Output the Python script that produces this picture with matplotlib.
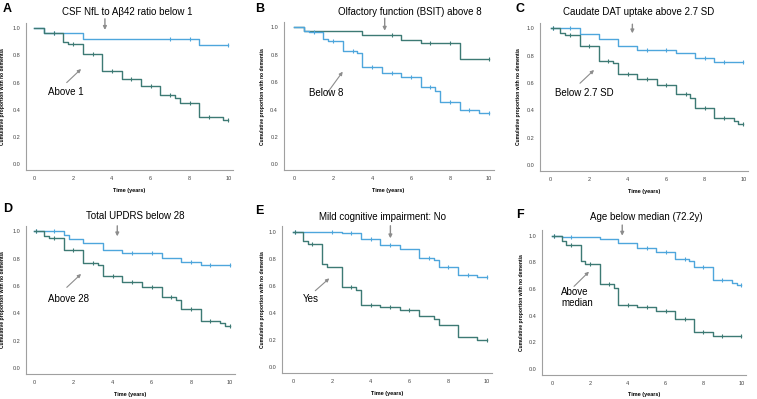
import numpy as np
import matplotlib
matplotlib.use("Agg")
import matplotlib.pyplot as plt

plt.rcParams['font.family'] = ['Liberation Sans', 'DejaVu Sans']

BLUE = '#4ea6dc'
DARK = '#3d7a74'

#######################################
# DATA

letters = ['A', 'B', 'C', 'D', 'E', 'F']
titles = ['CSF NfL to A\u03b242 ratio below 1',
          'Olfactory function (BSIT) above 8',
          'Caudate DAT uptake above 2.7 SD',
          'Total UPDRS below 28',
          'Mild cognitive impairment: No',
          'Age below median (72.2y)']
labels = ['Above 1', 'Below 8', 'Below 2.7 SD', 'Above 28', 'Yes', 'Above\nmedian']

# "title" group (upper curve, arrow from title)
top_colors = [BLUE, DARK, BLUE, BLUE, BLUE, BLUE]
top_t = [[0, 0.5, 2.5, 8.5],
         [0, 0.5, 3.5, 5.5, 6.5, 8.5],
         [0, 1.5, 2.5, 3.5, 4.5, 6.5, 7.5, 8.5],
         [0, 1.5, 1.75, 2.5, 3.5, 4.5, 6.5, 7.5, 8.5],
         [0, 2.5, 3.5, 4.5, 5.5, 6.5, 7.25, 7.5, 8.5, 9.5],
         [0, 0.5, 2.5, 3.5, 4.5, 5.5, 6.5, 7.25, 7.5, 8.5, 9.5, 9.75]]
top_s = [[1.0, 0.967, 0.924, 0.88],
         [1.0, 0.976, 0.944, 0.91, 0.883, 0.771],
         [1.0, 0.956, 0.922, 0.873, 0.844, 0.817, 0.783, 0.754],
         [1.0, 0.973, 0.946, 0.917, 0.866, 0.839, 0.807, 0.778, 0.752],
         [1.0, 0.988, 0.946, 0.902, 0.87, 0.808, 0.791, 0.74, 0.683, 0.666],
         [1.0, 0.99, 0.975, 0.948, 0.905, 0.875, 0.828, 0.81, 0.763, 0.67, 0.648, 0.63]]
top_c = [[1, 7, 8, 10],
         [5, 7, 8, 10],
         [0.1, 1, 5, 6, 8, 9, 10],
         [0.1, 1, 5, 6, 8, 9, 10],
         [0.1, 2, 3, 4, 5, 7, 8, 9, 10],
         [0.1, 1, 5, 6, 7, 8, 9, 10]]

# other group (lower curve, labelled inside)
low_colors = [DARK, BLUE, DARK, DARK, DARK, DARK]
low_t = [[0, 0.5, 1.5, 1.75, 2.5, 3.5, 4.5, 5.5, 6.5, 7.25, 7.5, 8.5, 9.75],
         [0, 0.5, 0.75, 1.5, 1.75, 2.5, 3.25, 3.5, 4.5, 5.5, 6.5, 7.25, 7.5, 8.5, 9.5],
         [0, 0.5, 0.75, 1.5, 2.5, 3.25, 3.5, 4.5, 5.5, 6.5, 7.25, 7.5, 8.5, 9.5, 9.75],
         [0, 0.5, 0.75, 1.5, 2.5, 3.25, 3.5, 4.5, 5.5, 6.5, 7.25, 7.5, 8.5, 9.5, 9.75],
         [0, 0.5, 0.75, 1.5, 1.75, 2.5, 3.25, 3.5, 4.5, 5.5, 6.5, 7.25, 7.5, 8.5, 9.5],
         [0, 0.5, 0.75, 1.5, 1.75, 2.5, 3.25, 3.5, 4.5, 5.5, 6.5, 7.5, 8.5]]
low_s = [[1.0, 0.965, 0.897, 0.885, 0.81, 0.688, 0.627, 0.577, 0.509, 0.49, 0.45, 0.344, 0.324],
         [1.0, 0.976, 0.964, 0.912, 0.903, 0.827, 0.815, 0.713, 0.664, 0.635, 0.567, 0.538, 0.455, 0.397, 0.372],
         [1.0, 0.968, 0.951, 0.868, 0.761, 0.749, 0.668, 0.629, 0.588, 0.517, 0.49, 0.42, 0.341, 0.322, 0.3],
         [1.0, 0.966, 0.949, 0.866, 0.766, 0.751, 0.671, 0.632, 0.59, 0.522, 0.495, 0.432, 0.344, 0.329, 0.31],
         [1.0, 0.931, 0.907, 0.762, 0.742, 0.59, 0.572, 0.459, 0.442, 0.423, 0.376, 0.356, 0.312, 0.226, 0.201],
         [1.0, 0.96, 0.93, 0.808, 0.788, 0.635, 0.61, 0.48, 0.463, 0.438, 0.375, 0.28, 0.25]]
low_c = [[1, 2, 3, 4, 5, 6, 7, 8, 9, 10],
         [1, 2, 3, 4, 5, 6, 7, 8, 9, 10],
         [0.1, 1, 2, 3, 4, 5, 6, 7, 8, 9, 10],
         [0.1, 1, 2, 3, 4, 5, 6, 7, 8, 9, 10],
         [0.1, 1, 3, 4, 5, 6, 10],
         [0.1, 1, 2, 3, 4, 5, 6, 7, 8, 9, 10]]

#######################################
# LAYOUT (pixels: x of t=0, x of t=10, y of 1.0, y of 0.0, left limit)

W, H = 757, 399
frames = [(34.3, 228.3, 28.3, 164.0, -0.43),
          (294.3, 488.7, 27.3, 164.3, -0.55),
          (550.7, 743.3, 28.3, 165.0, -0.56),
          (34.3, 230.0, 231.3, 368.0, -0.42),
          (293.0, 487.0, 231.7, 367.3, -0.55),
          (552.3, 741.3, 235.7, 369.0, -0.56)]
XMAX, YMIN, YMAX = 10.25, -0.045, 1.04

letter_px = [(3, 3), (255, 3), (516, 3), (3, 203), (255, 205), (516, 209)]
ylab_px = [5, 264.7, 521.3, 5, 264.7, 524]

# annotation positions in data units
title_xy = [(4.8, 1.12), (5.95, 1.11), (4.58, 1.12), (5.15, 1.114), (4.59, 1.108), (4.96, 1.14)]
down_arrow = [((3.64, 1.07), (3.64, 0.988)), ((4.65, 1.066), (4.65, 0.975)),
              ((4.24, 1.03), (4.24, 0.963)), ((4.24, 1.04), (4.24, 0.963)),
              ((5.02, 1.044), (5.02, 0.951)), ((3.7, 1.08), (3.7, 1.0))]
diag_arrow = [((1.67, 0.60), (2.41, 0.70)), ((1.68, 0.518), (2.49, 0.676)),
              ((1.52, 0.598), (2.25, 0.695)), ((1.66, 0.59), (2.39, 0.688)),
              ((1.15, 0.565), (1.87, 0.656)), ((1.15, 0.62), (1.94, 0.73))]
label_xy = [(0.72, 0.527), (0.77, 0.524), (0.22, 0.53), (0.72, 0.505), (0.5, 0.504), (0.48, 0.535)]


def draw_curve(ax, t, s, cens, color):
    t = np.array(t + [10.0])
    s = np.array(s + [s[-1]])
    ax.step(t, s, where='post', color=color, lw=1.0, zorder=3)
    cens = np.array(cens)
    idx = np.searchsorted(t, cens, side='right') - 1
    ax.plot(cens, s[idx], ls='none', marker='|', ms=3.2, mew=0.8, color=color, zorder=4)


fig = plt.figure(figsize=(W / 100, H / 100), dpi=100)

for i in range(6):
    x0, x10, y1, y0, xl = frames[i]
    ux = (x10 - x0) / 10
    uy = (y0 - y1)
    left = x0 + xl * ux
    right = x0 + XMAX * ux
    top = y0 - YMAX * uy
    bottom = y0 - YMIN * uy
    ax = fig.add_axes([left / W, 1 - bottom / H, (right - left) / W, (bottom - top) / H])
    ax.set_xlim(xl, XMAX)
    ax.set_ylim(YMIN, YMAX)

    draw_curve(ax, top_t[i], top_s[i], top_c[i], top_colors[i])
    draw_curve(ax, low_t[i], low_s[i], low_c[i], low_colors[i])

    for side in ['top', 'right']:
        ax.spines[side].set_visible(False)
    for side in ['left', 'bottom']:
        ax.spines[side].set_color('#a0a0a0')
        ax.spines[side].set_linewidth(0.8)
    ax.set_xticks([0, 2, 4, 6, 8, 10])
    ax.set_yticks([0.0, 0.2, 0.4, 0.6, 0.8, 1.0])
    ax.set_yticklabels(['0.0', '0.2', '0.4', '0.6', '0.8', '1.0'])
    ax.tick_params(length=0, labelsize=4, labelcolor='#444444', pad=4)

    ax.set_ylabel('Cumulative proportion with no dementia', fontsize=3.6,
                  fontweight='bold')
    ax.yaxis.set_label_coords((ylab_px[i] - left) / (right - left), 0.5)
    ax.set_xlabel('Time (years)', fontsize=4, fontweight='bold', labelpad=5)

    # title of upper group with arrow
    ax.text(title_xy[i][0], title_xy[i][1], titles[i], fontsize=7,
            ha='center', va='center', clip_on=False)
    (ax_s, ax_e) = down_arrow[i]
    ax.annotate('', xy=ax_e, xytext=ax_s, annotation_clip=False,
                arrowprops=dict(arrowstyle='-|>', color='#8c8c8c', lw=1.0,
                                mutation_scale=5, shrinkA=0, shrinkB=0))
    (d_s, d_e) = diag_arrow[i]
    ax.annotate('', xy=d_e, xytext=d_s, annotation_clip=False,
                arrowprops=dict(arrowstyle='-|>', color='#8c8c8c', lw=0.8,
                                mutation_scale=5, shrinkA=0, shrinkB=0))
    ax.text(label_xy[i][0], label_xy[i][1], labels[i], fontsize=7,
            ha='left', va='center', linespacing=1.05)

    lx, ly = letter_px[i]
    fig.text(lx / W, 1 - ly / H, letters[i], fontsize=9, fontweight='bold',
             ha='left', va='top')

fig.savefig('out.png', dpi=100)
